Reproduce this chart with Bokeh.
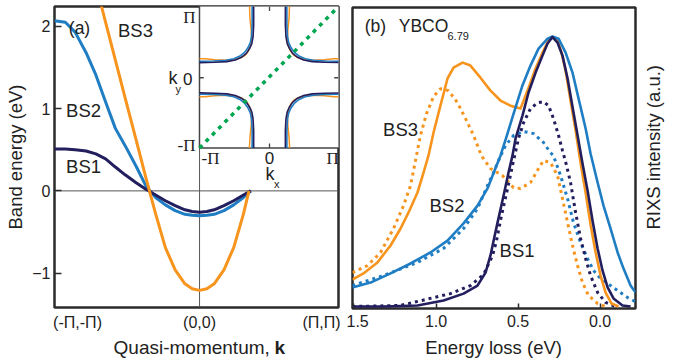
from math import pi
from bokeh.plotting import figure
from bokeh.models import Range1d, FixedTicker, Label, Span, NumeralTickFormatter
from bokeh.layouts import row, column
from bokeh.embed import file_html
from bokeh.resources import INLINE

NAVY = "#231f5e"
BLUE = "#1f7dc3"
ORANGE = "#f7941d"
GREEN = "#00a651"
INK = "#222222"
FRAME = "#2b2b2b"
FONT = "Liberation Sans"
SERIF = "Liberation Serif"

# ---------------- Panel (a): band dispersions along the nodal cut ----------------
K = [-1.19, -1.10, -1.02, -0.93, -0.85, -0.77, -0.69, -0.61, -0.52, -0.44, -0.36,
     -0.28, -0.20, -0.12, -0.06, 0.0, 0.06, 0.12, 0.20, 0.28, 0.36, 0.42]
BS1_E = [0.51, 0.51, 0.50, 0.485, 0.45, 0.39, 0.29, 0.195, 0.10, 0.02, -0.05,
         -0.12, -0.18, -0.23, -0.25, -0.26, -0.25, -0.23, -0.18, -0.12, -0.05, 0.0]
BS2_E = [2.07, 2.05, 1.93, 1.68, 1.41, 1.08, 0.76, 0.55, 0.30, 0.06, -0.08,
         -0.17, -0.24, -0.285, -0.297, -0.303, -0.297, -0.285, -0.24, -0.17, -0.08, 0.0]
K3 = [-0.85, -0.77, -0.69, -0.61, -0.52, -0.44, -0.36, -0.28, -0.20, -0.12, -0.06,
      0.0, 0.06, 0.12, 0.20, 0.28, 0.36, 0.405]
BS3_E = [2.51, 2.05, 1.59, 1.13, 0.62, 0.16, -0.28, -0.69, -0.96, -1.13, -1.19,
         -1.21, -1.19, -1.13, -0.96, -0.69, -0.28, 0.0]
K_TICKS = [-1, 0, 1]
K_TICK_LABELS = {-1: "(-\u03a0,-\u03a0)", 0: "(0,0)", 1: "(\u03a0,\u03a0)"}
E_TICKS = [-1, 0, 1, 2]

# inset: Fermi surfaces (kx, ky in units of pi), one list per quadrant
INSET_KX = (-1.148, 1.131)
INSET_KY = (-1.068, 1.083)
FS1_KX = [[0.26, 0.26, 0.27, 0.29, 0.33, 0.38, 0.46, 0.56, 0.70, 0.90, 1.20],
          [-0.26, -0.26, -0.27, -0.29, -0.33, -0.38, -0.46, -0.56, -0.70, -0.90, -1.148],
          [-0.26, -0.26, -0.27, -0.29, -0.33, -0.38, -0.46, -0.56, -0.70, -0.90, -1.148],
          [0.26, 0.26, 0.27, 0.29, 0.33, 0.38, 0.46, 0.56, 0.70, 0.90, 1.20]]
FS1_KY = [[1.15, 0.80, 0.62, 0.52, 0.44, 0.37, 0.31, 0.27, 0.245, 0.235, 0.23],
          [1.15, 0.80, 0.62, 0.52, 0.44, 0.37, 0.31, 0.27, 0.245, 0.235, 0.23],
          [-1.068, -0.80, -0.62, -0.52, -0.44, -0.37, -0.31, -0.27, -0.245, -0.235, -0.23],
          [-1.068, -0.80, -0.62, -0.52, -0.44, -0.37, -0.31, -0.27, -0.245, -0.235, -0.23]]
FS2_KX = [[0.285, 0.285, 0.295, 0.315, 0.355, 0.405, 0.485, 0.585, 0.72, 0.92, 1.20],
          [-0.285, -0.285, -0.295, -0.315, -0.355, -0.405, -0.485, -0.585, -0.72, -0.92, -1.148],
          [-0.285, -0.285, -0.295, -0.315, -0.355, -0.405, -0.485, -0.585, -0.72, -0.92, -1.148],
          [0.285, 0.285, 0.295, 0.315, 0.355, 0.405, 0.485, 0.585, 0.72, 0.92, 1.20]]
FS2_KY = [[1.15, 0.80, 0.63, 0.535, 0.455, 0.39, 0.33, 0.29, 0.265, 0.255, 0.25],
          [1.15, 0.80, 0.63, 0.535, 0.455, 0.39, 0.33, 0.29, 0.265, 0.255, 0.25],
          [-1.068, -0.80, -0.63, -0.535, -0.455, -0.39, -0.33, -0.29, -0.265, -0.255, -0.25],
          [-1.068, -0.80, -0.63, -0.535, -0.455, -0.39, -0.33, -0.29, -0.265, -0.255, -0.25]]
FS3_KX = [[0.33, 0.32, 0.30, 0.295, 0.31, 0.35, 0.40, 0.48, 0.58, 0.72, 0.90, 1.05, 1.20],
          [-0.33, -0.32, -0.30, -0.295, -0.31, -0.35, -0.40, -0.48, -0.58, -0.72, -0.90, -1.05, -1.148],
          [-0.33, -0.32, -0.30, -0.295, -0.31, -0.35, -0.40, -0.48, -0.58, -0.72, -0.90, -1.05, -1.148],
          [0.33, 0.32, 0.30, 0.295, 0.31, 0.35, 0.40, 0.48, 0.58, 0.72, 0.90, 1.05, 1.20]]
FS3_KY = [[1.15, 0.90, 0.72, 0.58, 0.48, 0.40, 0.34, 0.30, 0.275, 0.265, 0.275, 0.29, 0.29],
          [1.15, 0.90, 0.72, 0.58, 0.48, 0.40, 0.34, 0.30, 0.275, 0.265, 0.275, 0.29, 0.29],
          [-1.068, -0.90, -0.72, -0.58, -0.48, -0.40, -0.34, -0.30, -0.275, -0.265, -0.275, -0.29, -0.29],
          [-1.068, -0.90, -0.72, -0.58, -0.48, -0.40, -0.34, -0.30, -0.275, -0.265, -0.275, -0.29, -0.29]]
CUT_KX = [-1.148, 1.131]
CUT_KY = [-1.068, 1.083]

# ---------------- Panel (b): RIXS spectra ----------------
B3_SOLID_E = [1.51, 1.442, 1.357, 1.277, 1.216, 1.168, 1.113, 1.076, 1.046, 1.015, 0.973,
              0.930, 0.893, 0.838, 0.790, 0.729, 0.668, 0.607, 0.546, 0.485, 0.442, 0.393,
              0.351, 0.314, 0.287, 0.259, 0.235, 0.210, 0.180, 0.149, 0.119, 0.088, 0.058,
              0.027, -0.003, -0.034, -0.070, -0.113]
B3_SOLID_I = [0.10, 0.123, 0.164, 0.227, 0.290, 0.349, 0.424, 0.498, 0.561, 0.647, 0.747,
              0.848, 0.888, 0.907, 0.896, 0.851, 0.803, 0.766, 0.747, 0.736, 0.803, 0.885,
              0.944, 0.989, 1.002, 0.989, 0.944, 0.877, 0.766, 0.654, 0.535, 0.424, 0.305,
              0.201, 0.115, 0.052, 0.011, 0.0]
B2_SOLID_E = [1.51, 1.399, 1.277, 1.155, 1.034, 0.930, 0.832, 0.747, 0.686, 0.643, 0.607,
              0.570, 0.527, 0.473, 0.424, 0.375, 0.320, 0.290, 0.253, 0.210, 0.168, 0.131,
              0.088, 0.058, 0.015, -0.021, -0.064, -0.107, -0.143, -0.186, -0.216]
B2_SOLID_I = [0.071, 0.089, 0.123, 0.160, 0.201, 0.245, 0.309, 0.375, 0.439, 0.506, 0.561,
              0.632, 0.717, 0.822, 0.896, 0.959, 0.996, 1.004, 0.996, 0.944, 0.870, 0.773,
              0.662, 0.569, 0.461, 0.375, 0.290, 0.201, 0.141, 0.078, 0.052]
B1_SOLID_E = [1.51, 1.320, 1.113, 0.954, 0.832, 0.747, 0.698, 0.668, 0.646, 0.625, 0.588,
              0.558, 0.534, 0.515, 0.473, 0.436, 0.393, 0.351, 0.320, 0.290, 0.259, 0.229,
              0.198, 0.168, 0.137, 0.107, 0.076, 0.046, 0.015, -0.015, -0.046, -0.082,
              -0.137, -0.186]
B1_SOLID_I = [0.0, 0.0, 0.004, 0.022, 0.048, 0.078, 0.126, 0.190, 0.253, 0.312, 0.413,
              0.498, 0.561, 0.625, 0.710, 0.796, 0.870, 0.933, 0.978, 1.002, 0.981, 0.933,
              0.848, 0.743, 0.636, 0.532, 0.431, 0.320, 0.216, 0.134, 0.071, 0.030,
              0.004, 0.0]
B3_DOT_E = [1.51, 1.418, 1.338, 1.259, 1.198, 1.155, 1.125, 1.095, 1.058, 1.015, 0.973,
            0.924, 0.869, 0.820, 0.771, 0.723, 0.668, 0.595, 0.527, 0.485, 0.424, 0.375,
            0.345, 0.302, 0.259, 0.229, 0.198, 0.168, 0.137, 0.107, 0.070, 0.015, -0.034]
B3_DOT_I = [0.126, 0.152, 0.201, 0.290, 0.375, 0.450, 0.543, 0.636, 0.717, 0.781, 0.810,
            0.803, 0.758, 0.699, 0.636, 0.561, 0.513, 0.487, 0.442, 0.439, 0.461, 0.513,
            0.543, 0.535, 0.487, 0.401, 0.312, 0.227, 0.152, 0.089, 0.041, 0.011, 0.0]
B2_DOT_E = [1.51, 1.320, 1.113, 0.954, 0.832, 0.747, 0.686, 0.649, 0.619, 0.576, 0.527,
            0.466, 0.405, 0.345, 0.302, 0.284, 0.241, 0.198, 0.162, 0.119, 0.076, 0.040,
            -0.003, -0.046, -0.107, -0.168, -0.216]
B2_DOT_I = [0.078, 0.115, 0.164, 0.216, 0.290, 0.364, 0.450, 0.498, 0.543, 0.599, 0.636,
            0.651, 0.643, 0.610, 0.572, 0.561, 0.487, 0.401, 0.312, 0.238, 0.178, 0.134,
            0.104, 0.086, 0.059, 0.033, 0.018]
B1_DOT_E = [1.51, 1.216, 1.015, 0.912, 0.790, 0.710, 0.655, 0.631, 0.601, 0.564, 0.534,
            0.497, 0.466, 0.424, 0.381, 0.345, 0.314, 0.284, 0.253, 0.229, 0.204, 0.180,
            0.149, 0.119, 0.088, 0.058, 0.015, -0.034, -0.095]
B1_DOT_I = [0.0, 0.004, 0.033, 0.048, 0.078, 0.119, 0.190, 0.245, 0.338, 0.438, 0.524,
            0.625, 0.684, 0.736, 0.758, 0.762, 0.747, 0.699, 0.636, 0.580, 0.524, 0.461,
            0.349, 0.253, 0.178, 0.115, 0.052, 0.015, 0.0]
LOSS_TICKS = [1.5, 1.0, 0.5, 0.0]


def lab(p, x, y, text, size="18.5px", align="center", baseline="middle", font=FONT,
        style="normal", angle=0.0, xr="default", yr="default", color=INK):
    p.add_layout(Label(x=x, y=y, text=text, text_font=font, text_font_size=size,
                       text_align=align, text_baseline=baseline, text_font_style=style,
                       angle=angle, x_range_name=xr, y_range_name=yr, text_color=color))


def style_common(p):
    p.xgrid.visible = False
    p.ygrid.visible = False
    p.outline_line_color = FRAME
    p.outline_line_width = 2.5
    p.background_fill_color = "white"
    p.border_fill_color = "white"


def strip(width, height, x_range, left, right):
    s = figure(width=width, height=height, x_range=x_range, y_range=Range1d(0, 1),
               output_backend="svg", toolbar_location=None, x_axis_location=None,
               y_axis_location=None, min_border_left=left, min_border_right=right,
               min_border_top=0, min_border_bottom=0)
    s.grid.visible = False
    s.outline_line_color = None
    s.background_fill_color = "white"
    s.border_fill_color = "white"
    return s


# ---------------- figure (a) ----------------
pa = figure(width=346, height=333, x_range=Range1d(-1.189, 1.139),
            y_range=Range1d(-1.418, 2.242), output_backend="svg", toolbar_location=None,
            min_border_left=54, min_border_right=8, min_border_top=6, min_border_bottom=25)
pa.extra_x_ranges = {"kx": Range1d(-3.525, 1.131)}
pa.extra_y_ranges = {"ky": Range1d(-3.492, 1.083)}
style_common(pa)

pa.xaxis.ticker = FixedTicker(ticks=K_TICKS)
pa.xaxis.major_label_overrides = K_TICK_LABELS
pa.xaxis.major_tick_in = 0
pa.xaxis.major_tick_out = 0
pa.xaxis.minor_tick_line_color = None
pa.xaxis.axis_line_color = None
pa.xaxis.major_label_standoff = 6
pa.xaxis.major_label_text_font = FONT
pa.xaxis.major_label_text_font_size = "16px"
pa.xaxis.major_label_text_color = INK

pa.yaxis.ticker = FixedTicker(ticks=E_TICKS)
pa.yaxis.major_tick_in = 7
pa.yaxis.major_tick_out = 0
pa.yaxis.major_tick_line_color = FRAME
pa.yaxis.major_tick_line_width = 1.5
pa.yaxis.minor_tick_line_color = None
pa.yaxis.axis_line_color = None
pa.yaxis.major_label_standoff = 4
pa.yaxis.major_label_text_font = FONT
pa.yaxis.major_label_text_font_size = "16px"
pa.yaxis.major_label_text_color = INK
pa.yaxis.axis_label = "Band energy (eV)"
pa.yaxis.axis_label_text_font = FONT
pa.yaxis.axis_label_text_font_size = "18.5px"
pa.yaxis.axis_label_text_font_style = "normal"
pa.yaxis.axis_label_text_color = INK
pa.yaxis.axis_label_standoff = 3

pa.add_layout(Span(location=0, dimension="width", line_color="#555555", line_width=1,
                   level="underlay"))
pa.add_layout(Span(location=0, dimension="height", line_color="#555555", line_width=1,
                   level="underlay"))

pa.line(K, BS2_E, line_color=BLUE, line_width=3, line_join="round")
pa.line(K, BS1_E, line_color=NAVY, line_width=3, line_join="round")
pa.line(K3, BS3_E, line_color=ORANGE, line_width=3, line_join="round")

# inset
pa.quad(left=[INSET_KX[0]], right=[INSET_KX[1] + 0.2], bottom=[INSET_KY[0]],
        top=[INSET_KY[1] + 0.2], x_range_name="kx", y_range_name="ky",
        fill_color="white", line_color="#444444", line_width=1.5)
pa.multi_line(FS3_KX, FS3_KY, x_range_name="kx", y_range_name="ky",
              line_color=ORANGE, line_width=1.5)
pa.multi_line(FS2_KX, FS2_KY, x_range_name="kx", y_range_name="ky",
              line_color=BLUE, line_width=1.6)
pa.multi_line(FS1_KX, FS1_KY, x_range_name="kx", y_range_name="ky",
              line_color=NAVY, line_width=1.6)
pa.line(CUT_KX, CUT_KY, x_range_name="kx", y_range_name="ky", line_color=GREEN,
        line_width=3.5, line_dash="4 5")
pa.segment(x0=[0, 0, INSET_KX[0], INSET_KX[1]], y0=[INSET_KY[1], INSET_KY[0], 0, 0],
           x1=[0, 0, INSET_KX[0] + 0.07, INSET_KX[1] - 0.07],
           y1=[INSET_KY[1] - 0.07, INSET_KY[0] + 0.07, 0, 0],
           x_range_name="kx", y_range_name="ky", line_color="#444444", line_width=1.3)

lab(pa, -1.213, 0.916, "\u03a0", size="17px", align="right", font=SERIF, xr="kx", yr="ky")
lab(pa, -1.262, -0.015, "0", size="17px", align="right", xr="kx", yr="ky")
lab(pa, -1.213, -1.023, "-\u03a0", size="17px", align="right", font=SERIF, xr="kx", yr="ky")
lab(pa, -1.656, 0.0, "k", size="18px", align="left", xr="kx", yr="ky")
lab(pa, -1.541, -0.175, "y", size="11px", align="left", xr="kx", yr="ky")
lab(pa, -0.967, -1.22, "-\u03a0", size="17px", font=SERIF, xr="kx", yr="ky")
lab(pa, 0.0, -1.22, "0", size="17px", xr="kx", yr="ky")
lab(pa, 1.033, -1.22, "\u03a0", size="17px", font=SERIF, xr="kx", yr="ky")
lab(pa, -0.066, -1.462, "k", size="18px", align="left", xr="kx", yr="ky")
lab(pa, 0.074, -1.62, "x", size="11px", align="left", xr="kx", yr="ky")

lab(pa, -0.984, 1.976, "(a)", size="17.5px")
lab(pa, -0.525, 1.952, "BS3")
lab(pa, -0.951, 0.982, "BS2")
lab(pa, -0.951, 0.291, "BS1")

ta = strip(346, 25, pa.x_range, 54, 8)
lab(ta, -0.705, 0.44, "Quasi-momentum,", size="19px", align="left")
lab(ta, 0.615, 0.44, "k", size="19px", align="left", style="bold")

# ---------------- figure (b) ----------------
pb = figure(width=291, height=333, x_range=Range1d(1.509, -0.216),
            y_range=Range1d(-0.0074, 1.112), output_backend="svg", toolbar_location=None,
            y_axis_location=None,
            min_border_left=6, min_border_right=2, min_border_top=7, min_border_bottom=25)
style_common(pb)
pb.xaxis.ticker = FixedTicker(ticks=LOSS_TICKS)
pb.xaxis.formatter = NumeralTickFormatter(format="0.0")
pb.xaxis.major_tick_in = 5
pb.xaxis.major_tick_out = 0
pb.xaxis.major_tick_line_color = FRAME
pb.xaxis.major_tick_line_width = 1.5
pb.xaxis.minor_tick_line_color = None
pb.xaxis.axis_line_color = None
pb.xaxis.major_label_standoff = 6
pb.xaxis.major_label_text_font = FONT
pb.xaxis.major_label_text_font_size = "16px"
pb.xaxis.major_label_text_color = INK

DOT = "3 4"
pb.line(B3_DOT_E, B3_DOT_I, line_color=ORANGE, line_width=3, line_dash=DOT)
pb.line(B2_DOT_E, B2_DOT_I, line_color=BLUE, line_width=3, line_dash=DOT)
pb.line(B1_DOT_E, B1_DOT_I, line_color=NAVY, line_width=3, line_dash=DOT)
pb.line(B3_SOLID_E, B3_SOLID_I, line_color=ORANGE, line_width=2.6, line_join="round")
pb.line(B2_SOLID_E, B2_SOLID_I, line_color=BLUE, line_width=2.6, line_join="round")
pb.line(B1_SOLID_E, B1_SOLID_I, line_color=NAVY, line_width=2.6, line_join="round")

lab(pb, 1.369, 1.045, "(b)", size="17.5px")
lab(pb, 1.227, 1.045, "YBCO", size="17.5px", align="left")
lab(pb, 0.930, 1.007, "6.79", size="11px", align="left")
lab(pb, 1.216, 0.658, "BS3")
lab(pb, 0.933, 0.375, "BS2")
lab(pb, 0.506, 0.208, "BS1")

tb = strip(291, 25, pb.x_range, 6, 2)
lab(tb, 0.649, 0.44, "Energy loss (eV)")

# right-hand intensity label
pr = strip(35, 358, Range1d(0, 1), 0, 0)
lab(pr, 0.46, 0.59, "RIXS intensity (a.u.)", angle=pi / 2)

layout = row(column(pa, ta), column(pb, tb), pr)
open("out.html", "w").write(file_html(layout, INLINE))
